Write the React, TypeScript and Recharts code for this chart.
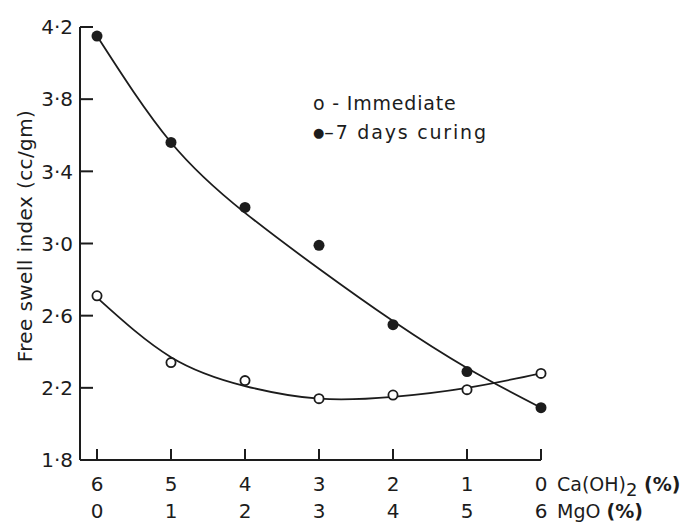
import { ComposedChart, Line, XAxis, YAxis, ReferenceLine, Legend } from "recharts";

// Ca(OH)2 content falls while MgO content rises along the x axis
const caOH2 = [6, 5, 4, 3, 2, 1, 0];
const mgO = [0, 1, 2, 3, 4, 5, 6];

// measured free swell index (cc/gm)
const immediate = [2.71, 2.34, 2.24, 2.14, 2.16, 2.19, 2.28];
const curing7 = [4.15, 3.56, 3.2, 2.99, 2.55, 2.29, 2.09];

// fitted curves
const immediateFit = [2.7, 2.37, 2.21, 2.14, 2.15, 2.2, 2.28];
const curingFit = [4.15, 3.56, 3.17, 2.86, 2.57, 2.31, 2.09];

const yTicks = [1.8, 2.2, 2.6, 3.0, 3.4, 3.8, 4.2];

const data = mgO.map((m, i) => ({
  mgo: m,
  ca: caOH2[i],
  immediate: immediate[i],
  curing: curing7[i],
  immediateFit: immediateFit[i],
  curingFit: curingFit[i],
}));

const ink = "#1c1c1c";
const font = "'DejaVu Sans', sans-serif";

const YTick = ({ x, y, payload }: any) => (
  <g>
    <line x1={x} x2={x + 13} y1={y} y2={y} stroke={ink} strokeWidth={2} />
    <text x={x - 7} y={y} dy="0.36em" textAnchor="end" fill={ink} fontSize={20} fontFamily={font}>
      {payload.value.toFixed(1).replace(".", "·")}
    </text>
  </g>
);

const XTick = ({ x, y, payload }: any) => {
  const i = mgO.indexOf(payload.value);
  const last = payload.value === 6;
  return (
    <g fill={ink} fontSize={20} fontFamily={font}>
      <line x1={x} x2={x} y1={y} y2={y - 11} stroke={ink} strokeWidth={2} />
      <text x={x} y={y + 31} textAnchor="middle">{caOH2[i]}</text>
      <text x={x} y={y + 58} textAnchor="middle">{payload.value}</text>
      {last && (
        <>
          <text x={x + 16} y={y + 31} fontSize={19}>
            Ca(OH)<tspan dy={5} fontSize={18}>2</tspan>
            <tspan dy={-5} fontWeight="bold"> (%)</tspan>
          </text>
          <text x={x + 16} y={y + 58} fontSize={19}>
            MgO <tspan fontWeight="bold">(%)</tspan>
          </text>
        </>
      )}
    </g>
  );
};

const LegendBox = () => (
  <div style={{ fontFamily: font, fontSize: 19, color: ink, lineHeight: "29px" }}>
    <div style={{ letterSpacing: 0.8 }}>o - Immediate</div>
    <div style={{ letterSpacing: 1.8 }}>
      <span style={{ fontSize: 13, letterSpacing: 0, verticalAlign: "2px" }}>●</span>–7 days curing
    </div>
  </div>
);

export default function App() {
  return (
    <div style={{ position: "absolute", left: 0, top: 0, width: 686, height: 522, background: "#fff" }}>
      <ComposedChart width={686} height={522} data={data} margin={{ top: 27, right: 145, bottom: 0, left: 0 }}>
        <XAxis
          dataKey="mgo"
          type="number"
          domain={[0, 6]}
          ticks={mgO}
          padding={{ left: 17 }}
          height={62}
          axisLine={false}
          tickLine={false}
          tickSize={0}
          tickMargin={0}
          tick={<XTick />}
          interval={0}
        />
        <YAxis
          domain={[1.8, 4.2]}
          ticks={yTicks}
          width={80}
          axisLine={{ stroke: ink, strokeWidth: 2 }}
          tickLine={false}
          tickSize={0}
          tickMargin={0}
          tick={<YTick />}
          interval={0}
        />
        <ReferenceLine
          segment={[{ x: -0.07, y: 1.8 }, { x: 6, y: 1.8 }]}
          stroke={ink}
          strokeWidth={2}
          ifOverflow="visible"
        />
        <Legend
          content={<LegendBox />}
          layout="horizontal"
          verticalAlign="middle"
          align="center"
          wrapperStyle={{ position: "absolute", left: 313, top: 89, width: 220, height: 60 }}
        />
        <Line type="natural" dataKey="curingFit" stroke={ink} strokeWidth={1.8} dot={false} isAnimationActive={false} legendType="none" />
        <Line type="natural" dataKey="immediateFit" stroke={ink} strokeWidth={1.8} dot={false} isAnimationActive={false} legendType="none" />
        <Line dataKey="curing" stroke="none" dot={{ r: 5.5, fill: ink, stroke: ink, strokeWidth: 0 }} activeDot={false} isAnimationActive={false} />
        <Line dataKey="immediate" stroke="none" dot={{ r: 4.6, fill: "#fff", stroke: ink, strokeWidth: 1.8 }} activeDot={false} isAnimationActive={false} />
      </ComposedChart>
      <div
        style={{
          position: "absolute",
          left: 25,
          top: 236,
          transform: "translate(-50%, -50%) rotate(-90deg)",
          whiteSpace: "nowrap",
          fontFamily: font,
          fontSize: 20,
          color: ink,
          letterSpacing: 0.4,
        }}
      >
        Free swell index (cc/gm)
      </div>
    </div>
  );
}
